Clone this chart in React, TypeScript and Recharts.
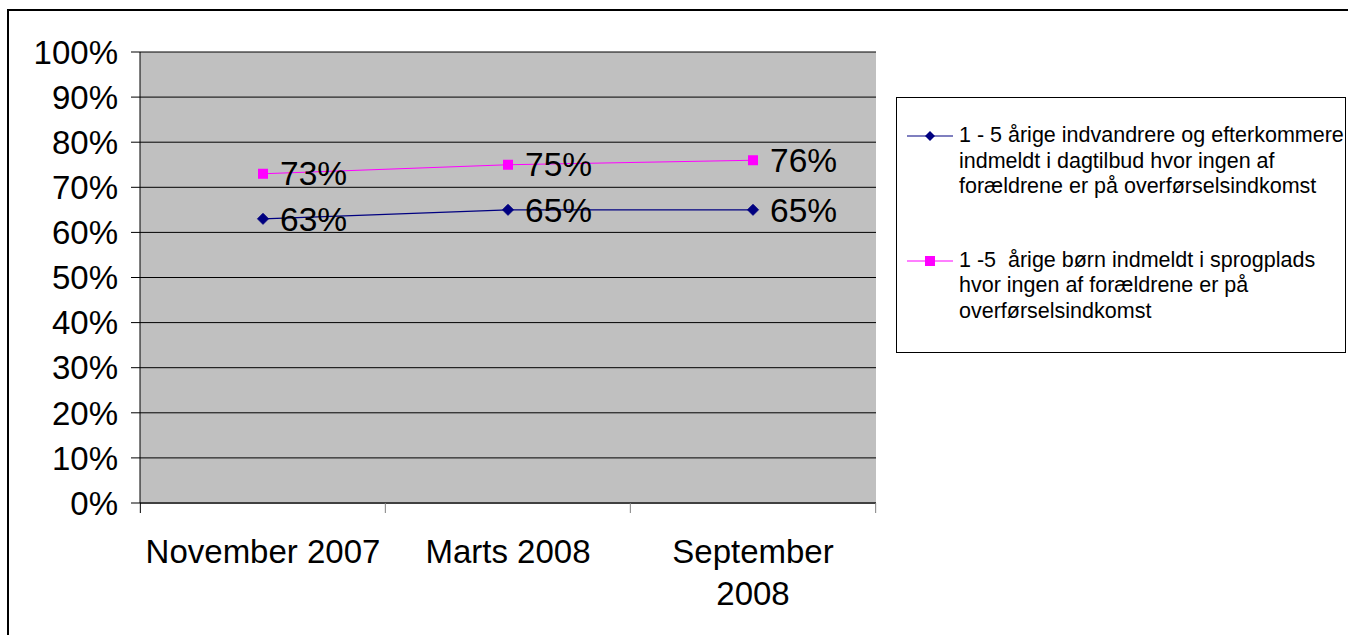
import React from "react";
import {
  LineChart,
  Line,
  XAxis,
  YAxis,
  CartesianGrid,
  Legend,
  LabelList,
} from "recharts";

const periods = ["November 2007", "Marts 2008", "September 2008"];
// how each category label breaks onto lines under the axis
const periodLabelLines = [["November 2007"], ["Marts 2008"], ["September", "2008"]];
const immigrantShare = [63, 65, 65];
const languageShare = [73, 75, 76];
const yTicks = [0, 10, 20, 30, 40, 50, 60, 70, 80, 90, 100];

const seriesNames = {
  immigrant: [
    "1 - 5 årige indvandrere og efterkommere",
    "indmeldt i dagtilbud hvor ingen af",
    "forældrene er på overførselsindkomst",
  ],
  language: [
    "1 -5  årige børn indmeldt i sprogplads",
    "hvor ingen af forældrene er på",
    "overførselsindkomst",
  ],
};

const NAVY = "#000080";
const MAGENTA = "#FF00FF";
const FONT = '"Liberation Sans", Arial, sans-serif';

const data = periods.map((period, i) => ({
  period,
  immigrant: immigrantShare[i],
  language: languageShare[i],
}));

function Diamond({ cx, cy }: any) {
  if (cx == null || cy == null) return null;
  const r = 5.5;
  return (
    <polygon
      points={`${cx},${cy - r} ${cx + r},${cy} ${cx},${cy + r} ${cx - r},${cy}`}
      fill={NAVY}
      stroke={NAVY}
    />
  );
}

function Square({ cx, cy }: any) {
  if (cx == null || cy == null) return null;
  return <rect x={cx - 5} y={cy - 5} width={10} height={10} fill={MAGENTA} />;
}

function ValueLabel({ x, y, value }: any) {
  return (
    <text
      x={x + 17}
      y={y}
      dy="0.35em"
      fontSize={33.5}
      fontFamily={FONT}
      fill="#000"
    >
      {value}%
    </text>
  );
}

// category label plus the small tick marks between categories
function PeriodTick({ x, y, payload, width, visibleTicksCount, index }: any) {
  const half = width / visibleTicksCount / 2;
  const last = index === visibleTicksCount - 1;
  const lines = periodLabelLines[periods.indexOf(payload.value)] ?? [payload.value];
  return (
    <g>
      <line
        x1={x - half}
        x2={x - half}
        y1={y}
        y2={y + 10}
        stroke={index === 0 ? "#000" : "#808080"}
      />
      {last && (
        <line x1={x + half} x2={x + half} y1={y} y2={y + 10} stroke="#808080" />
      )}
      <text
        x={x}
        y={y + 60}
        textAnchor="middle"
        fontSize={33}
        fontFamily={FONT}
        fill="#000"
      >
        {lines.map((l: string, i: number) => (
          <tspan key={l} x={x} dy={i === 0 ? 0 : 42}>
            {l}
          </tspan>
        ))}
      </text>
    </g>
  );
}

function LegendBox() {
  const entry = (lines: string[], marker: React.ReactNode, color: string) => (
    <div style={{ display: "flex", alignItems: "flex-start" }}>
      <svg width={52} height={26} style={{ flex: "none", marginLeft: 10 }}>
        <line x1={0} y1={13} x2={46} y2={13} stroke={color} strokeWidth={1.2} />
        {marker}
      </svg>
      <div style={{ fontSize: 21.5, lineHeight: "25.5px", color: "#000" }}>
        {lines.map((l) => (
          <div key={l} style={{ whiteSpace: "pre" }}>
            {l}
          </div>
        ))}
      </div>
    </div>
  );
  return (
    <div
      style={{
        width: 450,
        height: 256,
        border: "1px solid #000",
        boxSizing: "border-box",
        fontFamily: FONT,
        paddingTop: 25,
        background: "#fff",
      }}
    >
      {entry(
        seriesNames.immigrant,
        <polygon points="23,8 28,13 23,18 18,13" fill={NAVY} />,
        NAVY
      )}
      <div style={{ height: 48 }} />
      {entry(
        seriesNames.language,
        <rect x={18} y={8} width={10} height={10} fill={MAGENTA} />,
        MAGENTA
      )}
    </div>
  );
}

export default function App() {
  return (
    <div
      style={{
        position: "fixed",
        left: 0,
        top: 0,
        width: 1348,
        height: 635,
        overflow: "hidden",
        background: "#fff",
      }}
    >
      <div
        style={{
          position: "absolute",
          left: 7,
          top: 9,
          width: 1400,
          height: 700,
          borderTop: "2px solid #000",
          borderLeft: "2px solid #000",
        }}
      />
      <div style={{ position: "absolute", left: 0, top: 0 }}>
        <LineChart
          width={1348}
          height={635}
          data={data}
          margin={{ top: 52, right: 472, bottom: 22, left: 0 }}
        >
          <CartesianGrid
            vertical={false}
            stroke="#000"
            fill="#C0C0C0"
            fillOpacity={1}
          />
          <XAxis
            dataKey="period"
            axisLine={{ stroke: "#404040", strokeWidth: 2 }}
            tickLine={false}
            tick={<PeriodTick />}
            tickSize={0}
            tickMargin={0}
            interval={0}
            height={110}
            padding={{ left: 123, right: 123 }}
          />
          <YAxis
            domain={[0, 100]}
            ticks={yTicks}
            tickFormatter={(v) => `${v}%`}
            axisLine={{ stroke: "#000" }}
            tickLine={{ stroke: "#000" }}
            tickSize={9}
            tickMargin={13}
            tick={{ fill: "#000", fontSize: 33, fontFamily: FONT }}
            width={140}
          />
          <YAxis
            yAxisId="edge"
            orientation="right"
            domain={[0, 100]}
            allowDataOverflow
            tick={false}
            tickLine={false}
            axisLine={{ stroke: "#808080" }}
            width={0}
          />
          <Legend
            layout="horizontal"
            verticalAlign="middle"
            content={<LegendBox />}
            wrapperStyle={{ left: 896, top: 97, width: 450, height: 256 }}
          />
          <Line
            dataKey="immigrant"
            stroke={NAVY}
            strokeWidth={1.2}
            dot={<Diamond />}
            activeDot={false}
            isAnimationActive={false}
          >
            <LabelList dataKey="immigrant" content={<ValueLabel />} />
          </Line>
          <Line
            dataKey="language"
            stroke={MAGENTA}
            strokeWidth={1.2}
            dot={<Square />}
            activeDot={false}
            isAnimationActive={false}
          >
            <LabelList dataKey="language" content={<ValueLabel />} />
          </Line>
        </LineChart>
      </div>
    </div>
  );
}
